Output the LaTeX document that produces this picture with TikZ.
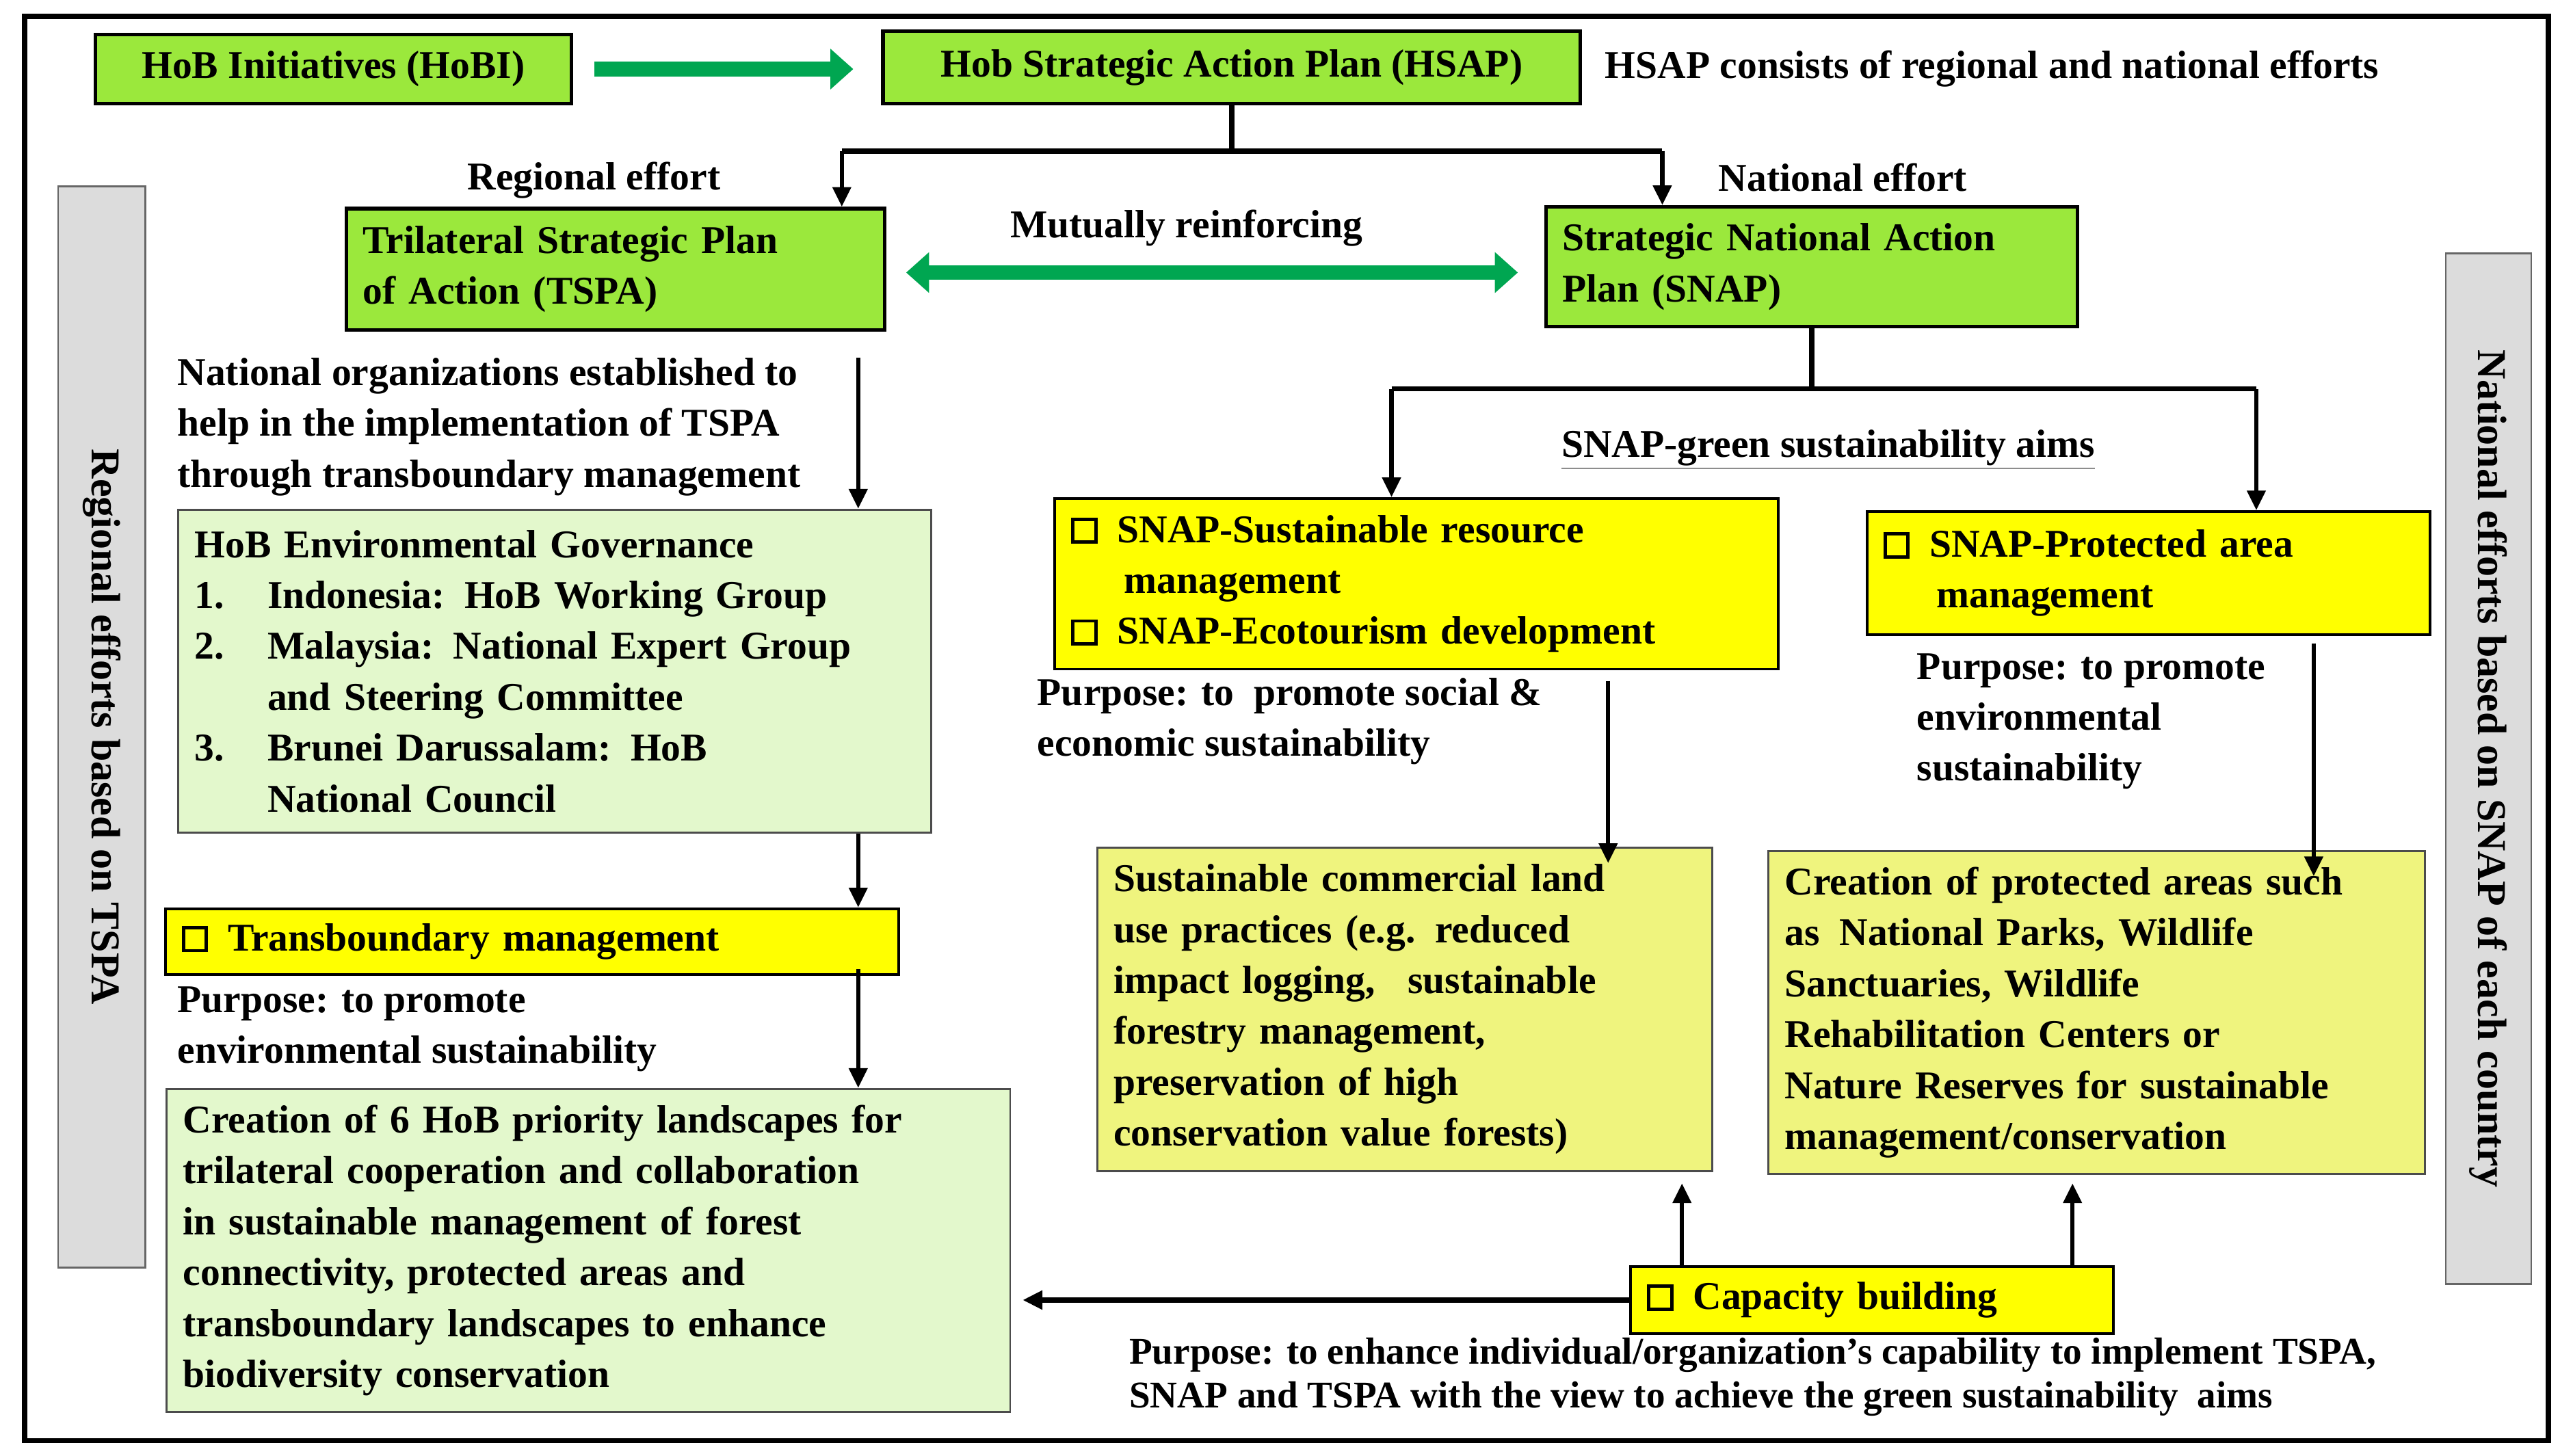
\documentclass[tikz,border=0pt]{standalone}
\usepackage{fontspec}
\setmainfont{Liberation Serif}
\usetikzlibrary{arrows.meta}
\definecolor{bgreen}{HTML}{9BE83C}
\definecolor{agreen}{HTML}{00A651}
\definecolor{lgreen}{HTML}{E3F8CC}
\definecolor{lyel}{HTML}{EFF47E}
\definecolor{yel}{HTML}{FFFF00}
\definecolor{sgray}{HTML}{DCDCDC}
\newcommand\cbx{\raisebox{0.1ex}{\setlength\fboxrule{2pt}\setlength\fboxsep{0pt}\fbox{\rule{0pt}{0.5em}\hspace{0.5em}}}}
\tikzset{
 txt/.style={font=\bfseries\fontsize{24}{31}\selectfont, inner sep=0pt, align=left, anchor=north west},
 box/.style={draw, line width=1.6pt, anchor=north west, inner xsep=10pt, inner ysep=4pt, align=left, font=\bfseries\fontsize{24}{31}\selectfont},
 gbox/.style={box, fill=bgreen, line width=2.2pt},
 ybox/.style={box, fill=yel},
 pbox/.style={box, fill=lgreen, draw=black!70, line width=1.2pt},
 qbox/.style={box, fill=lyel, draw=black!70, line width=1.2pt},
 side/.style={draw=black!60, fill=sgray, line width=1pt, anchor=north west},
 sidet/.style={font=\bfseries\fontsize{25}{28}\selectfont, rotate=-90},
 arr/.style={line width=2.6pt, -{Triangle[length=12pt,width=11pt]}},
 garr/.style={line width=9pt, agreen, -{Triangle[length=14pt,width=24pt]}},
 gdarr/.style={line width=9pt, agreen, {Triangle[length=14pt,width=24pt]}-{Triangle[length=14pt,width=24pt]}},
}
\begin{document}
\begin{tikzpicture}[x=1pt,y=-1pt]
\useasboundingbox (0,0) rectangle (1568,887);
\draw[line width=3pt] (15,10) rectangle (1553,878);

\node[gbox, minimum width=290pt, minimum height=42pt, align=center, inner ysep=2pt] (hobi) at (57,20) {HoB Initiatives (HoBI)};
\node[gbox, minimum width=425pt, minimum height=44pt, align=center, inner ysep=2pt] (hsap) at (537,18) {Hob Strategic Action Plan (HSAP)};
\draw[garr] ([xshift=13pt]hobi.east) -- ([xshift=-17pt]hsap.west|-hobi.east);
\node[txt, anchor=west] (hsapt) at (978,42) {HSAP consists of regional and national efforts};

\node[gbox, minimum width=328pt, minimum height=74pt, inner ysep=5pt, text width=308pt] (tspa) at (210,126) {Trilateral Strategic Plan\\of Action (TSPA)};
\node[gbox, minimum width=324pt, minimum height=73pt, inner ysep=5pt, text width=304pt] (snap) at (941,125) {Strategic National Action\\Plan (SNAP)};
\coordinate (hl) at (513,92);
\coordinate (hr) at (1013,92);
\draw[line width=3.2pt] (hsap.south) -- (hsap.south|-hl);
\draw[line width=3.2pt] (hl) -- (hr);
\draw[arr] (hl) -- (hl|-tspa.north);
\draw[arr] (hr) -- (hr|-snap.north);
\node[txt, anchor=center] (reg) at (362,110) {Regional effort};
\node[txt, anchor=center] (nat) at (1123,108) {National effort};
\draw[gdarr] ([xshift=12pt,yshift=-2pt]tspa.east) -- ([xshift=-16pt,yshift=-2pt]snap.west|-tspa.east);
\node[txt, anchor=center] (mut) at (723,139) {Mutually reinforcing};

% left column
\node[txt] (natorg) at (108,218) {National organizations established to\\help in the implementation of TSPA\\through transboundary management};
\node[pbox, minimum width=459pt, minimum height=197pt, text width=439pt, anchor=north west] (gov) at (108,310) {HoB Environmental Governance\\
\makebox[1.85em][l]{1.}Indonesia: HoB Working Group\\
\makebox[1.85em][l]{2.}Malaysia: National Expert Group\\
\hspace*{1.85em}and Steering Committee\\
\makebox[1.85em][l]{3.}Brunei Darussalam: HoB\\
\hspace*{1.85em}National Council};
\coordinate (c1) at (523,218);
\draw[arr] (c1) -- (c1|-gov.north);
\node[ybox, minimum width=447pt, minimum height=40pt, inner ysep=2pt, text width=427pt] (trans) at (100,553) {\cbx\enspace Transboundary management};
\draw[arr] (c1|-gov.south) -- (c1|-trans.north);
\node[txt] (purp1) at (108,601) {Purpose: to promote\\environmental sustainability};
\node[pbox, minimum width=514pt, minimum height=197pt, text width=494pt, inner ysep=3pt] (six) at (101,663) {Creation of 6 HoB priority landscapes for\\trilateral cooperation and collaboration\\in sustainable management of forest\\connectivity, protected areas and\\transboundary landscapes to enhance\\biodiversity conservation};
\draw[arr] ([yshift=4pt]c1|-trans.south) -- (c1|-six.north);

% right part
\coordinate (sl) at (848,237);
\coordinate (sr) at (1375,237);
\draw[line width=3.2pt] (snap.south) -- (snap.south|-sl);
\draw[line width=3.2pt] (sl) -- (sr);
\node[txt, anchor=center] (aims) at (1114,274) {\underline{SNAP-green sustainability aims}};
\node[ybox, minimum width=441pt, minimum height=104pt, text width=421pt, inner ysep=4pt] (y1) at (642,303) {\cbx\enspace SNAP-Sustainable resource\\\hspace*{1.35em}management\\\cbx\enspace SNAP-Ecotourism development};
\node[ybox, minimum width=343pt, minimum height=75pt, text width=323pt, inner ysep=5pt] (y2) at (1137,311) {\cbx\enspace SNAP-Protected area\\\hspace*{1.35em}management};
\draw[arr] (sl) -- (sl|-y1.north);
\draw[arr] (sr) -- (sr|-y2.north);
\node[txt] (purp2) at (632,413) {Purpose: to\enspace promote social \&\\economic sustainability};
\node[txt] (purp3) at (1168,398) {Purpose: to promote\\environmental\\sustainability};
\node[qbox, minimum width=375pt, minimum height=197pt, text width=355pt, inner ysep=5pt] (comm) at (668,516) {Sustainable commercial land\\use practices (e.g. reduced\\impact logging,\enspace\ sustainable\\forestry management,\\preservation of high\\conservation value forests)};
\node[qbox, minimum width=400pt, minimum height=197pt, text width=380pt, inner ysep=5pt] (prot) at (1077,518) {Creation of protected areas such\\as\enspace National Parks, Wildlife\\Sanctuaries, Wildlife\\Rehabilitation Centers or\\Nature Reserves for sustainable\\management/conservation};
\coordinate (a1) at (980,415);
\coordinate (a2) at (1410,392);
\draw[arr] (a1) -- ([yshift=-10pt]a1|-comm.north);
\draw[arr] (a2) -- ([yshift=-16pt]a2|-prot.north);
\node[ybox, minimum width=294pt, minimum height=41pt, text width=274pt, inner ysep=2pt] (cap) at (993,771) {\cbx\enspace Capacity building};
\coordinate (u1) at (1025,771);
\coordinate (u2) at (1263,771);
\draw[arr] (u1) -- ([yshift=-7pt]u1|-comm.south);
\draw[arr] (u2) -- ([yshift=-5pt]u2|-prot.south);
\draw[arr, line width=3.4pt] (cap.west) -- ([xshift=7pt]six.east|-cap.west);
\node[txt, font=\bfseries\fontsize{23}{27}\selectfont] (purp4) at (688,815) {Purpose: to enhance individual/organization’s capability to implement TSPA,\\SNAP and TSPA with the view to achieve the green sustainability\enspace aims};

% side bars
\node[side, minimum width=53pt, minimum height=659pt] (lbar) at (35,113) {};
\node[sidet] (lbt) at (lbar.center) {Regional efforts based on TSPA};
\node[side, minimum width=52pt, minimum height=628pt] (rbar) at (1490,154) {};
\node[sidet] (rbt) at (rbar.center) {National efforts based on SNAP of each country};
\end{tikzpicture}
\end{document}
